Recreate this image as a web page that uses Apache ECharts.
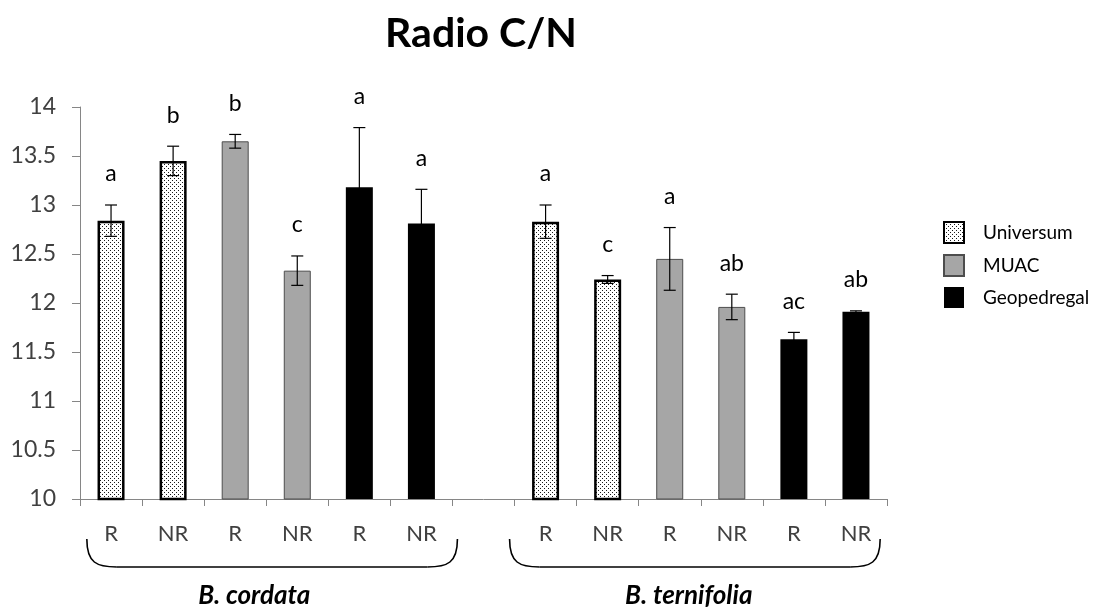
<!DOCTYPE html>
<html>
<head>
<meta charset="utf-8">
<script src="https://cdn.jsdelivr.net/npm/echarts@6/dist/echarts.min.js"></script>
<style>
  html, body { margin: 0; padding: 0; background: #fff; }
  #chart { width: 1098px; height: 609px; }
</style>
</head>
<body>
<div id="chart"></div>
<script>
// Category slots: R / NR per site, an empty slot separating the two species
const categories = ['R', 'NR', 'R', 'NR', 'R', 'NR', '', 'R', 'NR', 'R', 'NR', 'R', 'NR'];
const sites = ['Universum', 'Universum', 'MUAC', 'MUAC', 'Geopedregal', 'Geopedregal', null,
               'Universum', 'Universum', 'MUAC', 'MUAC', 'Geopedregal', 'Geopedregal'];
const means = [12.84, 13.45, 13.65, 12.33, 13.18, 12.81, null, 12.83, 12.24, 12.45, 11.96, 11.63, 11.91];
const errors = [0.16, 0.15, 0.07, 0.15, 0.61, 0.35, null, 0.17, 0.04, 0.32, 0.13, 0.07, 0.01];
const letters = ['a', 'b', 'b', 'c', 'a', 'a', '', 'a', 'c', 'a', 'ab', 'ac', 'ab'];
const siteNames = ['Universum', 'MUAC', 'Geopedregal'];
const species = [
  { name: 'B. cordata', first: 0, last: 5 },
  { name: 'B. ternifolia', first: 7, last: 12 }
];
const yTicks = { min: 10, max: 14, step: 0.5 };

const FONT = 'Lato, "Open Sans", sans-serif';

// Stippled fill for the Universum bars
function dotPattern() {
  const c = document.createElement('canvas');
  c.width = 4; c.height = 4;
  const g = c.getContext('2d');
  g.fillStyle = '#ffffff';
  g.fillRect(0, 0, 4, 4);
  g.fillStyle = '#1a1a1a';
  g.fillRect(0, 0, 1, 1);
  g.fillRect(2, 2, 1, 1);
  return c;
}

const siteStyles = {
  Universum: { color: { image: dotPattern(), repeat: 'repeat' }, borderColor: '#000', borderWidth: 2.5 },
  MUAC: { color: '#a6a6a6', borderColor: '#4d4d4d', borderWidth: 1 },
  Geopedregal: { color: '#000000', borderColor: '#000000', borderWidth: 0 }
};

const barSeries = siteNames.map(function (site) {
  return {
    name: site,
    type: 'bar',
    barWidth: 27,
    barGap: '-100%',
    itemStyle: siteStyles[site],
    emphasis: { disabled: true },
    data: means.map(function (v, i) { return sites[i] === site ? v : '-'; }),
    z: 2
  };
});

// Error bars with the significance letters above them
const errorSeries = {
  type: 'custom',
  name: 'err',
  z: 5,
  silent: true,
  encode: { x: 0, y: 1 },
  data: means.map(function (v, i) { return v == null ? null : [i, v, errors[i]]; }).filter(Boolean),
  renderItem: function (params, api) {
    const idx = api.value(0);
    const m = api.value(1);
    const e = api.value(2);
    const top = api.coord([idx, m + e]);
    const bot = api.coord([idx, m - e]);
    const cap = 6;
    const stroke = { stroke: '#000', lineWidth: 1.2 };
    return {
      type: 'group',
      children: [
        { type: 'line', shape: { x1: top[0], y1: top[1], x2: bot[0], y2: bot[1] }, style: stroke },
        { type: 'line', shape: { x1: top[0] - cap, y1: top[1], x2: top[0] + cap, y2: top[1] }, style: stroke },
        { type: 'line', shape: { x1: bot[0] - cap, y1: bot[1], x2: bot[0] + cap, y2: bot[1] }, style: stroke },
        {
          type: 'text',
          style: {
            x: top[0], y: top[1] - 31, text: letters[idx],
            fill: '#000', font: '23px ' + FONT, align: 'center', verticalAlign: 'middle'
          }
        }
      ]
    };
  }
};

const chart = echarts.init(document.getElementById('chart'), null, { renderer: 'canvas' });

chart.setOption({
  animation: false,
  backgroundColor: '#ffffff',
  title: {
    text: 'Radio C/N',
    left: 476,
    top: 8,
    textAlign: 'center',
    textStyle: { fontFamily: FONT, fontWeight: 'bold', fontSize: 41, color: '#000' }
  },
  legend: {
    orient: 'vertical',
    left: 938,
    top: 216,
    icon: 'rect',
    itemWidth: 20,
    itemHeight: 21,
    itemGap: 10,
    data: siteNames,
    selectedMode: false,
    textStyle: { fontFamily: FONT, fontSize: 19, color: '#000', padding: [0, 0, 0, 14] }
  },
  grid: { left: 80, right: 211, top: 107, bottom: 110, containLabel: false },
  xAxis: {
    type: 'category',
    data: categories,
    axisLine: { lineStyle: { color: '#868686', width: 1 } },
    axisTick: { show: true, interval: 0, alignWithLabel: false, length: 7, lineStyle: { color: '#868686' } },
    axisLabel: { interval: 0, margin: 24, fontFamily: FONT, fontSize: 22, color: '#404040' },
    splitLine: { show: false }
  },
  yAxis: {
    type: 'value',
    min: yTicks.min,
    max: yTicks.max,
    interval: yTicks.step,
    axisLine: { show: true, lineStyle: { color: '#868686', width: 1 } },
    axisTick: { show: true, length: 8, lineStyle: { color: '#868686' } },
    axisLabel: { margin: 24, fontFamily: FONT, fontSize: 23, color: '#404040' },
    splitLine: { show: false }
  },
  series: barSeries.concat([errorSeries])
});

// Species braces and names under the category labels
function drawBraces() {
  const px = function (i) { return chart.convertToPixel({ xAxisIndex: 0 }, i); };
  const slot = px(1) - px(0);
  const yTop = 539, yBot = 567, r = 30;
  const stroke = { fill: null, stroke: '#000', lineWidth: 1.6 };
  const graphics = [];
  species.forEach(function (sp, k) {
    const x1 = k === 0 ? px(sp.first) - slot * 0.39 : px(sp.first) - slot * 0.58;
    const x2 = k === 0 ? px(sp.last) + slot * 0.58 : px(sp.last) + slot * 0.39;
    graphics.push({
      type: 'bezierCurve', silent: true, style: stroke,
      shape: { x1: x1, y1: yTop, cpx1: x1, cpy1: yBot - 4, cpx2: x1 + 10, cpy2: yBot, x2: x1 + r, y2: yBot }
    });
    graphics.push({
      type: 'line', silent: true, style: stroke,
      shape: { x1: x1 + r, y1: yBot, x2: x2 - r, y2: yBot }
    });
    graphics.push({
      type: 'bezierCurve', silent: true, style: stroke,
      shape: { x1: x2 - r, y1: yBot, cpx1: x2 - 10, cpy1: yBot, cpx2: x2, cpy2: yBot - 4, x2: x2, y2: yTop }
    });
    graphics.push({
      type: 'text',
      x: (px(sp.first) + px(sp.last)) / 2 - 12,
      y: 596,
      silent: true,
      style: {
        text: sp.name,
        font: 'italic bold 26px ' + FONT,
        fill: '#000',
        align: 'center',
        verticalAlign: 'middle'
      }
    });
  });
  chart.setOption({ graphic: graphics });
}
drawBraces();
</script>
</body>
</html>
